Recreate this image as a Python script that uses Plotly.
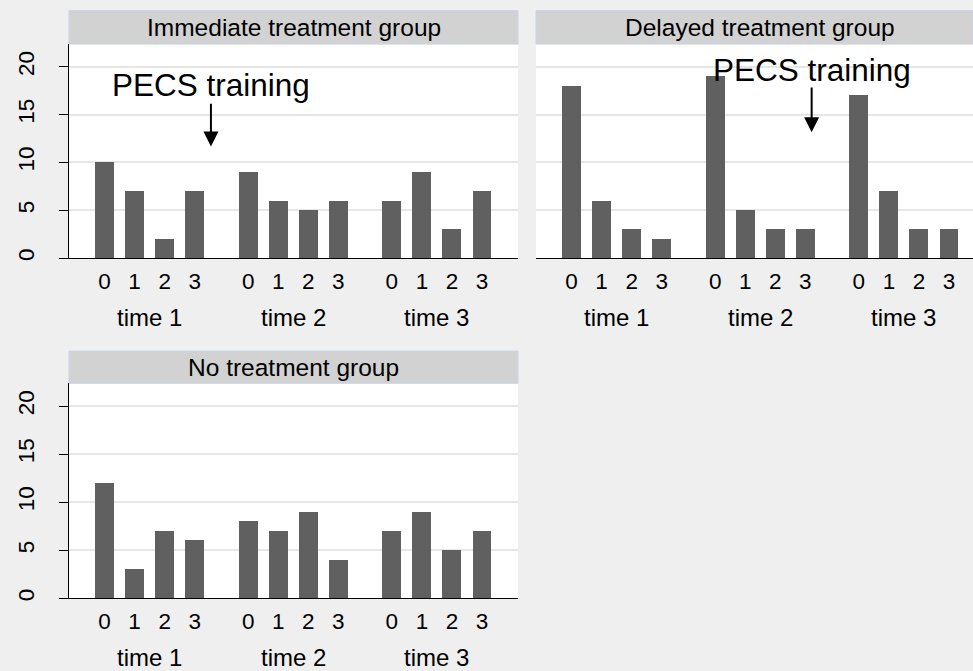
import plotly.graph_objects as go

# ---------------- data ----------------
panel_titles = ["Immediate treatment group", "Delayed treatment group", "No treatment group"]
time_labels = ["time 1", "time 2", "time 3"]
bar_labels = ["0", "1", "2", "3"]

immediate = [[10, 7, 2, 7], [9, 6, 5, 6], [6, 9, 3, 7]]
delayed = [[18, 6, 3, 2], [19, 5, 3, 3], [17, 7, 3, 3]]
no_treatment = [[12, 3, 7, 6], [8, 7, 9, 4], [7, 9, 5, 7]]
y_ticks = [0, 5, 10, 15, 20]

annotation_text = "PECS training"
# arrow annotations (data coords): x, tip y, tail y, text centre y
arrow_immediate = (3.54, 11.66, 16.3, 18.05)
arrow_delayed = (7.99, 13.15, 18.0, 19.65)

# ---------------- style / layout ----------------
W, H = 973, 671
FONT = "Liberation Sans, Arial, sans-serif"
BAR_COLOR = "#606060"
BG = "#efefef"
STRIP_FILL = "#d2d2d2"
STRIP_LINE = "#c9d3e6"
GRID = "#e6e6e6"

GROUP_STEP = 4.78
BAR_W = 0.63
X_LEFT = -1.183
PX_PER_UNIT = 30.05
Y_TOP = 22.37


def px_x(p):
    return p / W


def px_y(p):
    return 1 - p / H


panels = [
    # (data, x0px, x1px, plot_top_px, plot_bot_px, strip_top_px, show_y)
    (immediate, 69, 518, 44.3, 259.3, 10.7, True),
    (delayed, 536, 973, 44.3, 259.3, 10.7, False),
    (no_treatment, 69, 518, 385.0, 601.0, 352.7, True),
]

fig = go.Figure()
shapes = []
annotations = []

positions = [g * GROUP_STEP + k for g in range(len(time_labels)) for k in range(len(bar_labels))]
ticktext = bar_labels * len(time_labels)

for i, (data, x0, x1, pt, pb, st, show_y) in enumerate(panels):
    idx = "" if i == 0 else str(i + 1)
    xa = "x" + idx
    ya = "y" + idx
    values = [v for grp in data for v in grp]
    fig.add_trace(go.Bar(
        x=positions, y=values, width=BAR_W,
        marker=dict(color=BAR_COLOR, line=dict(width=0)),
        xaxis=xa, yaxis=ya, showlegend=False, hoverinfo="y",
    ))
    x_right = X_LEFT + (x1 - x0) / PX_PER_UNIT
    fig.layout["xaxis" + idx] = dict(
        domain=[px_x(x0), px_x(x1)], anchor=ya,
        range=[X_LEFT, x_right], tickvals=positions, ticktext=ticktext,
        showgrid=False, zeroline=False, showline=True, linecolor="black", linewidth=1,
        ticks="", tickfont=dict(family=FONT, size=22.5, color="black"),
        ticklabelstandoff=3, fixedrange=True,
    )
    fig.layout["yaxis" + idx] = dict(
        domain=[px_y(pb), px_y(pt)], anchor=xa,
        range=[0, Y_TOP], tickvals=y_ticks,
        showgrid=True, gridcolor=GRID, gridwidth=1.5, zeroline=False,
        showline=show_y, linecolor="black", linewidth=1,
        ticks="outside" if show_y else "", ticklen=9, tickcolor="black", tickwidth=1,
        showticklabels=show_y, tickangle=-90,
        tickfont=dict(family=FONT, size=22.5, color="black"),
        ticklabelstandoff=16, fixedrange=True,
    )
    # header strip
    shapes.append(dict(type="rect", xref="paper", yref="paper",
                       x0=px_x(x0), x1=px_x(x1), y0=px_y(pt), y1=px_y(st),
                       fillcolor=STRIP_FILL, line=dict(color=STRIP_LINE, width=1), layer="above"))
    annotations.append(dict(xref="paper", yref="paper",
                            x=(px_x(x0) + px_x(x1)) / 2 if i != 1 else px_x((536 + 984) / 2),
                            y=(px_y(pt) + px_y(st)) / 2,
                            text=panel_titles[i], showarrow=False, xanchor="center", yanchor="middle",
                            font=dict(family=FONT, size=24.5, color="black")))
    # group labels
    for g, lab in enumerate(time_labels):
        annotations.append(dict(xref=xa, yref="paper",
                                x=g * GROUP_STEP + (len(bar_labels) - 1) / 2,
                                y=px_y(pb + 59.5),
                                text=lab, showarrow=False, xanchor="center", yanchor="middle",
                                font=dict(family=FONT, size=24, color="black")))

for (ax_idx, arr) in [("", arrow_immediate), ("2", arrow_delayed)]:
    x, tip, tail, ty = arr
    annotations.append(dict(xref="x" + ax_idx, yref="y" + ax_idx, axref="x" + ax_idx, ayref="y" + ax_idx,
                            x=x, y=tip, ax=x, ay=tail, text="", showarrow=True,
                            arrowhead=2, arrowsize=1.5, arrowwidth=2, arrowcolor="black", standoff=0,
                            startstandoff=0))
    annotations.append(dict(xref="x" + ax_idx, yref="y" + ax_idx, x=x, y=ty,
                            text=annotation_text, showarrow=False, xanchor="center", yanchor="middle",
                            font=dict(family=FONT, size=31.5, color="black")))

fig.update_layout(
    width=W, height=H, margin=dict(l=0, r=0, t=0, b=0),
    paper_bgcolor=BG, plot_bgcolor="white",
    shapes=shapes, annotations=annotations, bargap=0,
    font=dict(family=FONT, color="black"),
)

fig.write_html("out.html", config={"displayModeBar": False})
